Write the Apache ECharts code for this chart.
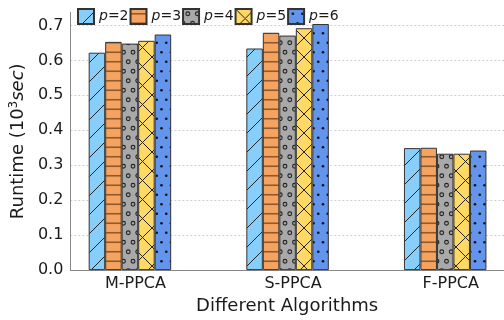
<!DOCTYPE html>
<html>
<head>
<meta charset="utf-8">
<script src="https://cdn.jsdelivr.net/npm/echarts@6/dist/echarts.min.js"></script>
<style>html,body{margin:0;padding:0;background:#fff}#c{width:504px;height:320px}</style>
</head>
<body>
<div id="c"></div>
<script>
const categories = ['M-PPCA', 'S-PPCA', 'F-PPCA'];
const seriesNames = ['p=2', 'p=3', 'p=4', 'p=5', 'p=6'];
const p2 = [0.622, 0.634, 0.349];
const p3 = [0.653, 0.679, 0.350];
const p4 = [0.648, 0.671, 0.333];
const p5 = [0.656, 0.692, 0.333];
const p6 = [0.674, 0.704, 0.342];
const yTicks = [0.0, 0.1, 0.2, 0.3, 0.4, 0.5, 0.6, 0.7];

const seriesValues = [p2, p3, p4, p5, p6];
const fills = ['#87CEFA', '#F4A460', '#A9A9A9', '#FFD966', '#6495ED'];
const hatches = ['/', '-', 'o', 'x', '.'];
const FONT = 'DejaVu Sans';

function makePattern(bg, kind) {
  const s = 19;
  const cv = document.createElement('canvas');
  cv.width = s; cv.height = s;
  const g = cv.getContext('2d');
  g.fillStyle = bg; g.fillRect(0, 0, s, s);
  g.strokeStyle = '#222'; g.fillStyle = '#111'; g.lineWidth = 1;
  const h = s / 2, q = s / 4;
  function line(x1, y1, x2, y2) { g.beginPath(); g.moveTo(x1, y1); g.lineTo(x2, y2); g.stroke(); }
  if (kind === '/' || kind === 'x') {
    line(-1, s + 1, s + 1, -1);
    line(-1, 1, 1, -1);
    line(s - 1, s + 1, s + 1, s - 1);
  }
  if (kind === 'x') {
    line(-1, -1, s + 1, s + 1);
    line(s - 1, -1, s + 1, 1);
    line(-1, s - 1, 1, s + 1);
  }
  if (kind === '-') {
    g.strokeStyle = 'rgba(80,40,10,0.6)'; g.lineWidth = 1.6;
    line(0, q, s, q);
    line(0, q + h, s, q + h);
  }
  const pts = [[q, q], [q + h, q], [0, q + h], [h, q + h], [s, q + h]];
  if (kind === 'o') {
    g.lineWidth = 1.1;
    pts.forEach(p => { g.beginPath(); g.arc(p[0], p[1], 1.9, 0, Math.PI * 2); g.stroke(); });
  }
  if (kind === '.') {
    pts.forEach(p => { g.beginPath(); g.arc(p[0], p[1], 1.3, 0, Math.PI * 2); g.fill(); });
  }
  return { image: cv, repeat: 'repeat' };
}

const chart = echarts.init(document.getElementById('c'), null, { renderer: 'canvas' });
const series = seriesNames.map((name, k) => ({
  name: name,
  type: 'bar',
  barWidth: 16.5,
  barGap: '0%',
  data: seriesValues[k].map((v, i) => [i, v]),
  itemStyle: { color: makePattern(fills[k], hatches[k]), borderColor: '#333', borderWidth: 1 },
  emphasis: { disabled: true }
}));

chart.setOption({
  animation: false,
  textStyle: { fontFamily: FONT },
  grid: { left: 68, top: 12.5, bottom: 46, right: -11, containLabel: false },
  legend: {
    data: seriesNames,
    icon: 'rect',
    left: 77, top: 8, padding: 0,
    itemWidth: 16, itemHeight: 15, itemGap: 1,
    formatter: n => '{i|p}' + n.slice(1),
    textStyle: {
      fontFamily: FONT, fontSize: 14, color: '#1a1a1a',
      rich: { i: { fontStyle: 'italic', fontFamily: FONT, fontSize: 14, color: '#1a1a1a' } }
    }
  },
  xAxis: {
    type: 'value', min: -0.378, max: 2.373,
    axisLine: { show: true, onZero: true, lineStyle: { color: '#888', width: 1 } },
    axisTick: { show: false },
    splitLine: { show: false },
    axisLabel: {
      customValues: [0, 1, 2],
      formatter: v => categories[Math.round(v)] || '',
      fontFamily: FONT, fontSize: 16, color: '#1a1a1a', margin: 6, padding: [0, 0, 0, 11]
    },
    name: 'Different Algorithms', nameLocation: 'middle', nameGap: 25,
    nameTextStyle: { fontFamily: FONT, fontSize: 18, color: '#1a1a1a' }
  },
  yAxis: {
    type: 'value', min: 0, max: 0.737, interval: 0.1,
    axisLine: { show: true, onZero: false, lineStyle: { color: '#888', width: 1 } },
    axisTick: { show: false, customValues: yTicks },
    splitLine: { show: true, lineStyle: { color: '#c4c4c4', width: 0.8, type: [2, 2] } },
    axisLabel: {
      customValues: yTicks,
      formatter: v => v.toFixed(1),
      fontFamily: FONT, fontSize: 16, color: '#1a1a1a', margin: 7
    },
    name: '{a|Runtime (10}{s|3}{i|sec}{a|)}', nameLocation: 'middle', nameGap: 40,
    nameTextStyle: {
      rich: {
        a: { fontFamily: FONT, fontSize: 18, color: '#1a1a1a' },
        s: { fontFamily: FONT, fontSize: 12, color: '#1a1a1a', verticalAlign: 'top', padding: [0, 0, 8, 0] },
        i: { fontFamily: FONT, fontSize: 18, color: '#1a1a1a', fontStyle: 'italic' }
      }
    }
  },
  series: series
});
</script>
</body>
</html>
